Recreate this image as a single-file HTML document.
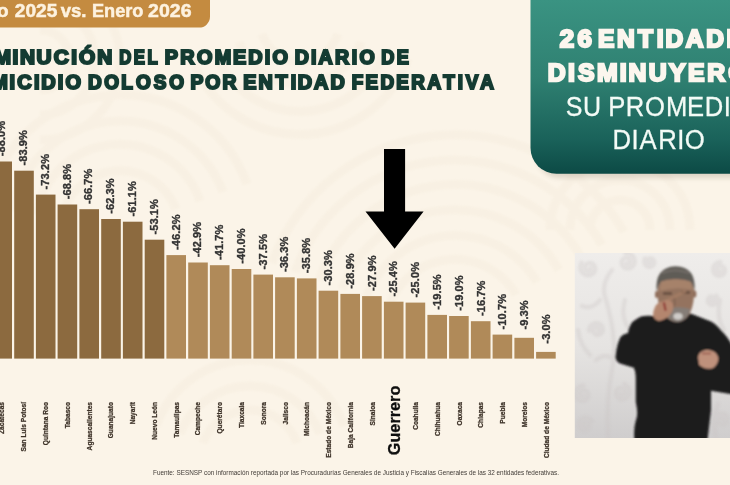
<!DOCTYPE html>
<html lang="es"><head><meta charset="utf-8"><title>Disminución del promedio diario de homicidio doloso</title>
<style>
html,body{margin:0;padding:0;background:#fbf4e8;}
body{width:730px;height:485px;overflow:hidden;position:relative;font-family:"Liberation Sans",sans-serif;}
svg{position:absolute;left:0;top:0;display:block}
text{font-family:"Liberation Sans",sans-serif}
.t{font-weight:bold;fill:#143b32;stroke:#143b32;stroke-width:2.1px;stroke-linejoin:miter;font-size:20.1px}
.v{font-weight:bold;fill:#333;stroke:#333;stroke-width:.35px;font-size:11px;letter-spacing:.1px;text-anchor:middle}
.n{font-weight:bold;fill:#3d3228;stroke:#3d3228;stroke-width:.25px;font-size:6.6px;text-anchor:end}
.bn{font-weight:bold;fill:#fdf2df;stroke:#fdf2df;stroke-width:.5px;font-size:17.6px}
.gb{font-weight:bold;fill:#fcf6ee;stroke:#fcf6ee;stroke-width:2.3px;stroke-linejoin:miter;font-size:24.8px}
.gr{fill:#f3fbf6;stroke:#f3fbf6;stroke-width:.3px;font-size:28.2px}
</style></head><body>
<svg width="730" height="485" viewBox="0 0 730 485">
<defs>
<linearGradient id="gg" x1="0" y1="0" x2="0" y2="1"><stop offset="0" stop-color="#3a9382"/><stop offset=".45" stop-color="#2f8071"/><stop offset=".8" stop-color="#1a625a"/><stop offset="1" stop-color="#0c4a45"/></linearGradient>
<linearGradient id="pg" x1="0" y1="0" x2="0" y2="1"><stop offset="0" stop-color="#efedeb"/><stop offset=".5" stop-color="#e6e4e2"/><stop offset="1" stop-color="#cfcdcd"/></linearGradient>
<filter id="sh" x="-10%" y="-10%" width="120%" height="130%"><feGaussianBlur stdDeviation="2.5"/></filter>
<filter id="b1" x="-10%" y="-10%" width="120%" height="120%"><feGaussianBlur stdDeviation="0.9"/></filter>
<filter id="b2" x="-20%" y="-20%" width="140%" height="140%"><feGaussianBlur stdDeviation="1.1"/></filter>
<clipPath id="pc"><rect x="574.8" y="253" width="160" height="185"/></clipPath>
</defs>
<rect width="730" height="485" fill="#fbf4e8"/>

<g fill="none" stroke="#f4ebdc" stroke-width="9" opacity=".4" filter="url(#b2)"><path d="M389 306A70 70 0 0 1 516 295"/><path d="M366 298A95 95 0 0 1 537 282"/><path d="M342 289A120 120 0 0 1 559 270"/><path d="M319 280A145 145 0 0 1 581 257"/><path d="M295 272A170 170 0 0 1 602 245"/><path d="M272 263A195 195 0 0 1 624 232"/><path d="M61 220A60 60 0 0 1 176 209"/><path d="M36 215A85 85 0 0 1 200 201"/><path d="M12 211A110 110 0 0 1 223 192"/><path d="M-13 207A135 135 0 0 1 247 184"/><path d="M338 34A40 40 0 0 1 262 34"/><path d="M361 42A65 65 0 0 1 239 42"/><path d="M385 51A90 90 0 0 1 215 51"/><path d="M408 59A115 115 0 0 1 192 59"/><path d="M590 230A30 30 0 0 1 650 230"/><path d="M570 230A50 50 0 0 1 670 230"/><path d="M550 230A70 70 0 0 1 690 230"/><path d="M203 443A50 50 0 0 1 297 443"/><path d="M180 434A75 75 0 0 1 320 434"/><path d="M156 426A100 100 0 0 1 344 426"/><path d="M40 30A30 30 0 0 1 40 90"/><path d="M40 5A55 55 0 0 1 40 115"/><path d="M40 -20A80 80 0 0 1 40 140"/></g>
<path d="M0 0H210V16.6a11 11 0 0 1 -11 11H0Z" fill="#c48b40"/>
<text x="-3.0" y="16.9" textLength="11.6" lengthAdjust="spacingAndGlyphs" class="bn">o</text>
<text x="14.8" y="16.9" textLength="42.5" lengthAdjust="spacingAndGlyphs" class="bn">2025</text>
<text x="60.7" y="16.9" textLength="25.8" lengthAdjust="spacingAndGlyphs" class="bn">vs.</text>
<text x="91.9" y="16.9" textLength="51.6" lengthAdjust="spacingAndGlyphs" class="bn">Enero</text>
<text x="148.1" y="16.9" textLength="43.4" lengthAdjust="spacingAndGlyphs" class="bn">2026</text>
<text x="-6.1 12.1 19.2 35.3 51.9 68.7 76.2 93.8" y="64" class="t" transform="scale(1.036 1)">MINUCIÓN</text>
<text x="143.4 160.9 177.4" y="64" class="t" transform="scale(0.831 1)">DEL</text>
<text x="167.0 182.7 199.8 217.9 236.3 251.9 268.6 276.4" y="64" class="t" transform="scale(0.986 1)">PROMEDIO</text>
<text x="302.7 319.4 326.9 344.0 361.2 369.0" y="64" class="t" transform="scale(0.974 1)">DIARIO</text>
<text x="422.8 439.9" y="64" class="t" transform="scale(0.902 1)">DE</text>
<text x="-8.8 9.6 17.4 34.3 41.6 58.2 66.0" y="89.3" class="t" transform="scale(0.992 1)">MICIDIO</text>
<text x="93.2 110.6 128.6 144.3 163.1 179.5" y="89.3" class="t" transform="scale(0.943 1)">DOLOSO</text>
<text x="198.2 213.7 231.6" y="89.3" class="t" transform="scale(0.961 1)">POR</text>
<text x="247.4 263.1 280.4 295.7 303.0 319.5 336.1" y="89.3" class="t" transform="scale(0.983 1)">ENTIDAD</text>
<text x="375.3 390.1 406.0 422.9 438.8 456.3 473.0 488.5 497.2 512.6" y="89.3" class="t" transform="scale(0.937 1)">FEDERATIVA</text>
<rect x="-7.6" y="161.5" width="19.6" height="197.1" fill="#8c6a3f"/>
<rect x="14.2" y="170.7" width="19.6" height="187.9" fill="#8c6a3f"/>
<rect x="35.9" y="194.6" width="19.6" height="164.0" fill="#8c6a3f"/>
<rect x="57.6" y="204.5" width="19.6" height="154.1" fill="#8c6a3f"/>
<rect x="79.4" y="209.2" width="19.6" height="149.4" fill="#8c6a3f"/>
<rect x="101.2" y="219.0" width="19.6" height="139.6" fill="#8c6a3f"/>
<rect x="122.9" y="221.7" width="19.6" height="136.9" fill="#8c6a3f"/>
<rect x="144.7" y="239.7" width="19.6" height="118.9" fill="#8c6a3f"/>
<rect x="166.4" y="255.1" width="19.6" height="103.5" fill="#b08a59"/>
<rect x="188.2" y="262.5" width="19.6" height="96.1" fill="#b08a59"/>
<rect x="209.9" y="265.2" width="19.6" height="93.4" fill="#b08a59"/>
<rect x="231.7" y="269.0" width="19.6" height="89.6" fill="#b08a59"/>
<rect x="253.4" y="274.6" width="19.6" height="84.0" fill="#b08a59"/>
<rect x="275.1" y="277.3" width="19.6" height="81.3" fill="#b08a59"/>
<rect x="296.9" y="278.4" width="19.6" height="80.2" fill="#b08a59"/>
<rect x="318.6" y="290.7" width="19.6" height="67.9" fill="#b08a59"/>
<rect x="340.4" y="293.9" width="19.6" height="64.7" fill="#b08a59"/>
<rect x="362.1" y="296.1" width="19.6" height="62.5" fill="#b08a59"/>
<rect x="383.9" y="301.7" width="19.6" height="56.9" fill="#b08a59"/>
<rect x="405.6" y="302.6" width="19.6" height="56.0" fill="#b08a59"/>
<rect x="427.4" y="314.9" width="19.6" height="43.7" fill="#b08a59"/>
<rect x="449.1" y="316.0" width="19.6" height="42.6" fill="#b08a59"/>
<rect x="470.9" y="321.2" width="19.6" height="37.4" fill="#b08a59"/>
<rect x="492.6" y="334.6" width="19.6" height="24.0" fill="#b08a59"/>
<rect x="514.4" y="337.8" width="19.6" height="20.8" fill="#b08a59"/>
<rect x="536.1" y="351.9" width="19.6" height="6.7" fill="#b08a59"/>
<text class="v" transform="translate(5.2 138.6) rotate(-90)">-88.0%</text>
<text class="v" transform="translate(27.0 147.8) rotate(-90)">-83.9%</text>
<text class="v" transform="translate(48.8 171.7) rotate(-90)">-73.2%</text>
<text class="v" transform="translate(70.6 181.6) rotate(-90)">-68.8%</text>
<text class="v" transform="translate(92.3 186.3) rotate(-90)">-66.7%</text>
<text class="v" transform="translate(114.1 196.1) rotate(-90)">-62.3%</text>
<text class="v" transform="translate(135.9 198.8) rotate(-90)">-61.1%</text>
<text class="v" transform="translate(157.7 216.8) rotate(-90)">-53.1%</text>
<text class="v" transform="translate(179.5 232.2) rotate(-90)">-46.2%</text>
<text class="v" transform="translate(201.3 239.6) rotate(-90)">-42.9%</text>
<text class="v" transform="translate(223.1 242.3) rotate(-90)">-41.7%</text>
<text class="v" transform="translate(244.8 246.1) rotate(-90)">-40.0%</text>
<text class="v" transform="translate(266.6 251.7) rotate(-90)">-37.5%</text>
<text class="v" transform="translate(288.4 254.4) rotate(-90)">-36.3%</text>
<text class="v" transform="translate(310.2 255.5) rotate(-90)">-35.8%</text>
<text class="v" transform="translate(332.0 267.8) rotate(-90)">-30.3%</text>
<text class="v" transform="translate(353.8 271.0) rotate(-90)">-28.9%</text>
<text class="v" transform="translate(375.6 273.2) rotate(-90)">-27.9%</text>
<text class="v" transform="translate(397.3 278.8) rotate(-90)">-25.4%</text>
<text class="v" transform="translate(419.1 279.7) rotate(-90)">-25.0%</text>
<text class="v" transform="translate(440.9 292.0) rotate(-90)">-19.5%</text>
<text class="v" transform="translate(462.7 293.1) rotate(-90)">-19.0%</text>
<text class="v" transform="translate(484.5 298.3) rotate(-90)">-16.7%</text>
<text class="v" transform="translate(506.3 311.7) rotate(-90)">-10.7%</text>
<text class="v" transform="translate(528.1 314.9) rotate(-90)">-9.3%</text>
<text class="v" transform="translate(549.8 329.0) rotate(-90)">-3.0%</text>
<text class="n" transform="translate(4.4 402.0) rotate(-90)">Zacatecas</text>
<text class="n" transform="translate(26.2 402.0) rotate(-90)">San Luis Potosí</text>
<text class="n" transform="translate(47.9 402.0) rotate(-90)">Quintana Roo</text>
<text class="n" transform="translate(69.7 402.0) rotate(-90)">Tabasco</text>
<text class="n" transform="translate(91.5 402.0) rotate(-90)">Aguascalientes</text>
<text class="n" transform="translate(113.3 402.0) rotate(-90)">Guanajuato</text>
<text class="n" transform="translate(135.0 402.0) rotate(-90)">Nayarit</text>
<text class="n" transform="translate(156.8 402.0) rotate(-90)">Nuevo León</text>
<text class="n" transform="translate(178.6 402.0) rotate(-90)">Tamaulipas</text>
<text class="n" transform="translate(200.4 402.0) rotate(-90)">Campeche</text>
<text class="n" transform="translate(222.1 402.0) rotate(-90)">Querétaro</text>
<text class="n" transform="translate(243.9 402.0) rotate(-90)">Tlaxcala</text>
<text class="n" transform="translate(265.7 402.0) rotate(-90)">Sonora</text>
<text class="n" transform="translate(287.5 402.0) rotate(-90)">Jalisco</text>
<text class="n" transform="translate(309.2 402.0) rotate(-90)">Michoacán</text>
<text class="n" transform="translate(331.0 402.0) rotate(-90)">Estado de México</text>
<text class="n" transform="translate(352.8 402.0) rotate(-90)">Baja California</text>
<text class="n" transform="translate(374.6 402.0) rotate(-90)">Sinaloa</text>
<text transform="translate(400.3 455.2) rotate(-90)" textLength="69.5" lengthAdjust="spacingAndGlyphs" style="font-weight:bold;fill:#0d0d0d;stroke:#0d0d0d;stroke-width:.3px;font-size:15.6px">Guerrero</text>
<text class="n" transform="translate(418.1 402.0) rotate(-90)">Coahuila</text>
<text class="n" transform="translate(439.9 402.0) rotate(-90)">Chihuahua</text>
<text class="n" transform="translate(461.7 402.0) rotate(-90)">Oaxaca</text>
<text class="n" transform="translate(483.4 402.0) rotate(-90)">Chiapas</text>
<text class="n" transform="translate(505.2 402.0) rotate(-90)">Puebla</text>
<text class="n" transform="translate(527.0 402.0) rotate(-90)">Morelos</text>
<text class="n" transform="translate(548.8 402.0) rotate(-90)">Ciudad de México</text>
<path d="M384 149H405.1V211.4H423.6L394.6 248.8L365.5 211.4H384Z" fill="#000"/>
<text x="153.0" y="474.8" textLength="406.0" lengthAdjust="spacingAndGlyphs" style="fill:#403b36;font-size:6.6px">Fuente: SESNSP con información reportada por las Procuradurías Generales de Justicia y Fiscalías Generales de las 32 entidades federativas.</text>
<path d="M536 0H740V178H560a24 24 0 0 1 -24 -24Z" fill="#5a4a30" opacity=".18" filter="url(#sh)"/>
<path d="M530.5 0H740V173.8H556.5a26 26 0 0 1 -26 -26Z" fill="url(#gg)"/>
<text x="537.7 554.7" y="46.9" class="gb" transform="scale(1.041 1)">26</text>
<text x="604.6 623.9 645.2 664.0 672.9 693.5 714.1 734.6 754.8" y="46.9" class="gb" transform="scale(0.989 1)">ENTIDADES</text>
<text x="548.2 568.7 578.5 597.7 620.4 629.2 649.3 669.6 688.8 708.0 729.1 751.0" y="80.9" class="gb" transform="scale(0.999 1)">DISMINUYERON</text>
<text x="637.7 657.4" y="116" class="gr" transform="scale(0.887 1)">SU</text>
<text x="669.1 688.4 709.7 732.6 755.8 775.4 796.1 804.2" y="116" class="gr" transform="scale(0.909 1)">PROMEDIO</text>
<text x="671.7 692.4 701.2 721.9 742.7 750.8" y="149" class="gr" transform="scale(0.912 1)">DIARIO</text>
<rect x="574.8" y="253" width="160" height="185" fill="url(#pg)"/>
<g clip-path="url(#pc)">
<g fill="none" stroke="#cbc5c4" stroke-width="4.2" stroke-linecap="round" opacity=".33" filter="url(#b2)"><path d="M590.5 268.0 L590.6 268.4 L590.6 269.0 L590.5 269.5 L590.1 270.0 L589.6 270.4 L589.0 270.7 L588.2 270.8 L587.4 270.6 L586.6 270.3 L585.9 269.7 L585.4 268.8 L585.1 267.9 L585.1 266.8 L585.4 265.7 L586.0 264.7 L586.9 263.9 L588.0 263.3 L589.3 263.0 L590.6 263.0 L592.0 263.4 L593.2 264.2 L594.2 265.4 L594.9 266.8 L595.2 268.4 L595.1 270.1 L594.5 271.7 L593.5 273.2 L592.0 274.3 L590.3 275.1 L588.4 275.4 L586.4 275.2 L584.5 274.4 L582.8 273.1 L581.5 271.4 L580.7 269.4 L580.4 267.1 L580.8 264.9 L581.7 262.7"/><path d="M626.4 263.4 L626.7 263.7 L627.2 263.9 L627.7 264.0 L628.3 263.9 L628.9 263.6 L629.5 263.1 L629.9 262.4 L630.1 261.6 L630.0 260.8 L629.8 259.9 L629.3 259.1 L628.5 258.4 L627.5 258.0 L626.4 257.8 L625.3 257.9 L624.1 258.3 L623.1 259.1 L622.3 260.1 L621.8 261.4 L621.6 262.8 L621.8 264.3 L622.5 265.7 L623.5 266.9 L624.8 267.8 L626.4 268.4 L628.1 268.5 L629.9 268.2 L631.5 267.4 L632.9 266.1 L634.0 264.5 L634.6 262.6 L634.7 260.6 L634.2 258.5 L633.2 256.6 L631.7 255.0 L629.8 253.9 L627.6 253.2 L625.2 253.2"/><path d="M583.8 395.8 L583.5 396.1 L583.1 396.4 L582.5 396.5 L581.9 396.5 L581.3 396.3 L580.7 395.9 L580.2 395.3 L579.9 394.6 L579.8 393.7 L580.0 392.8 L580.4 391.9 L581.0 391.2 L581.9 390.6 L583.0 390.2 L584.1 390.2 L585.3 390.5 L586.4 391.1 L587.4 392.0 L588.1 393.2 L588.4 394.5 L588.4 396.0 L588.0 397.5 L587.2 398.8 L586.0 400.0 L584.5 400.7 L582.8 401.1 L581.1 401.0 L579.3 400.5 L577.7 399.4 L576.4 398.0 L575.6 396.2 L575.2 394.2 L575.4 392.1 L576.1 390.1 L577.4 388.3 L579.1 386.8 L581.2 385.9 L583.5 385.5"/><path d="M620.3 393.4 L620.5 393.8 L620.8 394.2 L621.2 394.6 L621.8 394.8 L622.5 394.8 L623.1 394.6 L623.8 394.2 L624.4 393.7 L624.8 392.9 L624.9 392.0 L624.9 391.0 L624.5 390.1 L623.9 389.2 L623.0 388.5 L622.0 388.1 L620.7 387.9 L619.5 388.1 L618.3 388.6 L617.2 389.5 L616.4 390.6 L615.9 392.0 L615.8 393.5 L616.0 395.1 L616.8 396.6 L617.9 397.8 L619.3 398.8 L621.0 399.3 L622.9 399.4 L624.7 399.0 L626.4 398.1 L627.9 396.7 L628.9 394.9 L629.5 392.9 L629.5 390.8 L629.0 388.6 L627.9 386.7 L626.2 385.1 L624.2 383.9"/><path d="M598.3 330.7 L598.6 330.4 L598.8 329.9 L598.9 329.4 L598.9 328.8 L598.6 328.3 L598.2 327.8 L597.6 327.4 L596.9 327.1 L596.1 327.1 L595.3 327.3 L594.5 327.7 L593.8 328.4 L593.4 329.3 L593.1 330.2 L593.1 331.3 L593.5 332.4 L594.1 333.3 L595.0 334.1 L596.1 334.7 L597.4 334.9 L598.7 334.8 L600.0 334.3 L601.2 333.5 L602.1 332.4 L602.7 331.0 L602.9 329.4 L602.7 327.8 L602.1 326.3 L601.1 325.0 L599.7 323.9 L598.0 323.3 L596.2 323.1 L594.4 323.4 L592.6 324.1 L591.1 325.4 L589.9 327.0 L589.2 328.9 L589.1 331.0"/><path d="M584.4 426.4 L583.9 426.3 L583.5 426.1 L583.1 425.7 L582.8 425.2 L582.7 424.6 L582.7 423.9 L583.0 423.2 L583.4 422.6 L584.0 422.1 L584.8 421.8 L585.7 421.7 L586.6 421.8 L587.5 422.2 L588.3 422.9 L588.9 423.7 L589.2 424.8 L589.3 425.9 L589.1 427.1 L588.5 428.2 L587.6 429.2 L586.5 429.9 L585.2 430.3 L583.8 430.3 L582.3 429.9 L581.0 429.2 L579.9 428.1 L579.1 426.7 L578.7 425.1 L578.7 423.4 L579.2 421.8 L580.1 420.2 L581.5 419.0 L583.1 418.1 L585.0 417.7 L587.0 417.8 L588.9 418.4 L590.6 419.5 L592.0 421.1"/><path d="M720.8 271.3 L720.5 271.6 L720.1 271.8 L719.6 272.0 L719.0 271.9 L718.4 271.7 L717.9 271.3 L717.4 270.8 L717.1 270.1 L717.0 269.3 L717.2 268.4 L717.6 267.6 L718.2 266.9 L719.0 266.4 L720.0 266.1 L721.0 266.1 L722.1 266.3 L723.1 266.9 L724.0 267.7 L724.6 268.8 L724.9 270.0 L724.9 271.4 L724.5 272.7 L723.8 273.9 L722.7 274.9 L721.4 275.6 L719.9 275.9 L718.3 275.9 L716.7 275.4 L715.3 274.4 L714.1 273.1 L713.4 271.5 L713.0 269.7 L713.2 267.9 L713.8 266.1 L715.0 264.5 L716.5 263.2 L718.4 262.3 L720.5 262.0"/><path d="M723.5 420.0 L723.6 419.6 L723.6 419.1 L723.4 418.6 L723.1 418.1 L722.6 417.7 L722.0 417.5 L721.3 417.4 L720.5 417.5 L719.8 417.9 L719.2 418.5 L718.7 419.2 L718.4 420.1 L718.4 421.1 L718.7 422.1 L719.2 423.0 L720.0 423.8 L721.1 424.3 L722.2 424.6 L723.5 424.5 L724.7 424.1 L725.8 423.4 L726.7 422.4 L727.3 421.1 L727.6 419.6 L727.5 418.1 L726.9 416.7 L726.0 415.4 L724.7 414.3 L723.2 413.6 L721.5 413.4 L719.7 413.6 L718.0 414.3 L716.5 415.4 L715.3 417.0 L714.6 418.8 L714.4 420.8 L714.7 422.8 L715.5 424.7"/><path d="M651.5 262.0 L651.6 262.4 L651.5 262.9 L651.3 263.3 L651.0 263.7 L650.5 264.0 L650.0 264.2 L649.4 264.2 L648.7 264.1 L648.1 263.8 L647.6 263.3 L647.3 262.6 L647.1 261.9 L647.1 261.1 L647.3 260.3 L647.8 259.6 L648.4 259.0 L649.3 258.6 L650.2 258.4 L651.2 258.4 L652.1 258.8 L653.0 259.3 L653.7 260.2 L654.1 261.2 L654.3 262.3 L654.2 263.4 L653.8 264.6 L653.1 265.6 L652.1 266.3 L650.9 266.9 L649.6 267.0 L648.2 266.9 L647.0 266.3 L645.8 265.5 L645.0 264.3 L644.4 262.9 L644.3 261.4 L644.5 259.9 L645.1 258.5"/><path d="M710.5 300.2 L710.5 300.6 L710.6 301.1 L710.9 301.5 L711.3 301.8 L711.8 302.1 L712.3 302.2 L713.0 302.1 L713.6 301.9 L714.1 301.5 L714.5 300.9 L714.8 300.3 L714.9 299.5 L714.8 298.7 L714.4 298.0 L713.9 297.3 L713.1 296.8 L712.3 296.5 L711.3 296.4 L710.3 296.6 L709.4 297.1 L708.7 297.8 L708.1 298.7 L707.8 299.8 L707.8 300.9 L708.0 302.0 L708.6 303.1 L709.5 304.0 L710.6 304.6 L711.8 304.9 L713.1 304.9 L714.4 304.6 L715.6 303.9 L716.6 302.8 L717.3 301.6 L717.6 300.1 L717.6 298.6 L717.1 297.2 L716.3 295.8"/><path d="M608 438Q606 400 612 370Q618 340 606 300Q600 285 612 270"/><path d="M596 360Q606 352 614 360M600 300Q592 310 582 306M625 300Q620 318 630 330M590 355Q580 345 578 330"/><path d="M716 438Q712 420 718 404M724 330Q716 318 720 300"/></g>
<g filter="url(#b1)">
<path d="M653 316Q645 315.5 641 316.5Q634 320 631.5 323Q628.5 328 628 333Q623 334 620.5 337Q617.5 343 616.5 349.5L615.5 357.5Q616.5 362 620 363.6L628 366L633.8 367.7Q636 372 635.8 380V402Q638.5 414 636 420Q633.5 428 634.3 440H707.5L711 410V390.7L732 394.2V345Q727 336 721.5 331Q716 324 711 321.5L690.5 313.4Z" fill="#1b1a1b"/>
<path d="M657.5 291Q657 303 662 312Q668 321.5 677 322Q686 321.5 690.5 312Q694.5 302 694 290Q692 275 675.5 274Q659 275 657.5 291Z" fill="#94735f"/>
<path d="M661 281Q675 277.5 691 281L692.5 290Q676 286 659.5 291Z" fill="#a6826b"/>
<ellipse cx="656.6" cy="294.5" rx="1.6" ry="3.6" fill="#8f6d5a"/><ellipse cx="694.8" cy="294" rx="1.6" ry="3.6" fill="#8f6d5a"/>
<path d="M656.6 291.5Q654.5 267 675.5 266.2Q696.5 266.8 694.6 291Q693 284.5 690.5 281.5Q684 278.5 676 279Q667 278.5 661 281.5Q658.3 285 656.6 291.5Z" fill="#5f5b56"/>
<path d="M662 273Q675 267.5 689 273" stroke="#77726c" stroke-width="2.2" fill="none" opacity=".8"/>
<path d="M664.5 310Q677 305 690.5 309Q688 320.5 677.5 322Q668 322 664.5 310Z" fill="#857d77"/>
<ellipse cx="678" cy="316.3" rx="4.6" ry="3.4" fill="#cfccc9"/>
<path d="M663 293.5h9M681 292.5h9" stroke="#553f33" stroke-width="2.4" opacity=".75"/>
<path d="M673 296q3 6 1 10" stroke="#7a5c4c" stroke-width="2" fill="none" opacity=".6"/>
<path d="M653 315Q653.5 306 659 302.5L667 299.5Q671 300 673 304Q674 310 670 315Q665 320 659 321Q654 320 653 315Z" fill="#b4866e"/>
<path d="M664 303l1.5 7" stroke="#8c2f2c" stroke-width="2" stroke-linecap="round"/>
<path d="M668 300L686 291" stroke="#a98068" stroke-width="3" opacity=".75"/>
<path d="M698 357Q699 350.5 707 349.8Q716.5 350.5 718.3 357.5Q718.5 365 712 368.5Q703 369.5 699 364.5Z" fill="#bf917b"/>
<path d="M702 353.5h9" stroke="#8e4a42" stroke-width="1.6" opacity=".8"/>
</g></g>
</svg></body></html>
